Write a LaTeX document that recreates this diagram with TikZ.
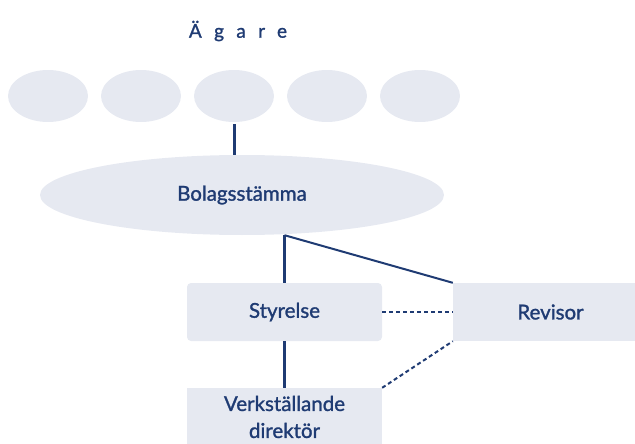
\documentclass[tikz,border=0pt]{standalone}
\usepackage{fontspec}
\setmainfont{Lato}
\newfontfamily\labelfont[FakeBold=1.3]{Lato}
\newfontfamily\spacedfont[LetterSpace=65,FakeBold=1.3]{Lato}
\usetikzlibrary{shapes.geometric}
\definecolor{navy}{HTML}{1F3B73}
\definecolor{pale}{HTML}{E6E9F1}

\begin{document}
\begin{tikzpicture}[x=1pt,y=-1pt,
	owner/.style={ellipse,fill=pale,minimum width=80pt,minimum height=52pt,inner sep=0pt},
	body/.style={rectangle,rounded corners=4pt,fill=pale,minimum width=195pt,minimum height=58pt,
		inner sep=0pt,text=navy,align=center,font=\labelfont\fontsize{20.5}{27}\selectfont},
	link/.style={navy,line width=3pt},
	audit/.style={navy,line width=2pt,dash pattern=on 4pt off 3pt}]

\useasboundingbox (0,0) rectangle (635,444);

\node[text=navy,font=\spacedfont\fontsize{19}{20}\selectfont] (title) at (238,31) {Ägare};

\node[owner] (O1) at (48,96) {};
\node[owner] (O2) at (141,96) {};
\node[owner] (O3) at (234,96) {};
\node[owner] (O4) at (327,96) {};
\node[owner] (O5) at (420,96) {};

\node[ellipse,fill=pale,minimum width=404pt,minimum height=80pt,inner sep=0pt,
	text=navy,font=\labelfont\fontsize{20.5}{24}\selectfont] (AGM) at (242,195) {Bolagsstämma};

\node[body] (S) at (284.5,312) {Styrelse};
\node[body,rounded corners=0pt] (R) at (550.5,312) {Revisor};
\node[body,rounded corners=0pt] (VD) at (284.5,417) {Verkställande\\direktör};

\coordinate (J) at (S.north |- AGM.south);

\draw[link] (O3.south) ++(0,2) -- (O3.south |- AGM.north);
\draw[link] (J) -- (S.north);
\draw[navy,line width=2pt] (J) -- (R.north west);
\draw[audit] (S.east) -- (R.west);
\draw[link] (S.south) -- (VD.north);
\draw[audit] (VD.north east) -- (R.south west);
\end{tikzpicture}
\end{document}
